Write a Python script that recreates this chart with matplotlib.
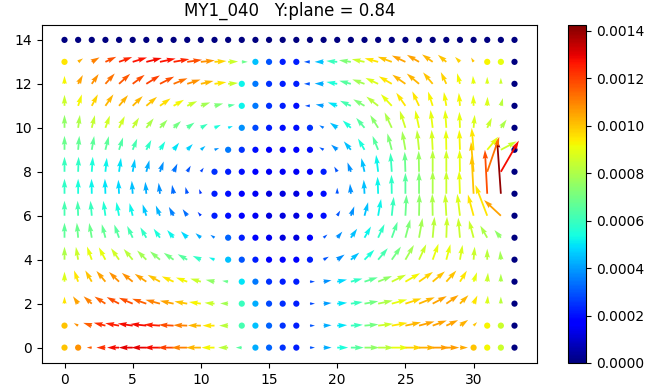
import numpy as np
import matplotlib
matplotlib.use("Agg")
import matplotlib.pyplot as plt

# plane Y = 0.84, grid columns x = 0..33, rows z = 0..14 (row 0 first)
# in-plane speed (arrow length), in-plane direction (deg) and |V| (x1e-5)
speed = [
    [0,0,5,9,12,14,15,16,16,16,15,13,10,6,0,0,0,0,5,8,11,13,15,16,17,17,17,17,13,8,0,0,0,0],
    [0,5,9,12,14,15,16,16,15,14,13,12,9,0,0,0,0,0,5,8,10,12,14,15,16,16,16,15,13,10,5,0,0,0],
    [7,9,11,13,14,15,15,15,14,13,12,10,8,0,0,0,0,0,5,8,10,12,14,15,16,17,17,16,15,12,9,8,7,0],
    [10,12,13,14,14,14,14,14,13,12,11,9,6,0,0,0,0,0,5,8,10,12,14,15,16,17,17,16,15,13,10,9,8,0],
    [13,13,14,14,14,14,13,13,12,11,9,6,0,0,0,0,0,0,0,6,9,11,14,15,16,17,17,17,16,15,13,11,9,0],
    [15,15,15,14,14,13,12,11,10,9,7,5,0,0,0,0,0,0,0,5,8,11,13,15,17,19,20,21,21,20,18,14,10,0],
    [15,15,15,15,14,13,12,11,10,8,5,0,0,0,0,0,0,0,0,0,6,10,14,17,19,21,22,22,22,22,22,33,23,0],
    [15,15,15,15,14,13,12,11,9,7,5,0,0,0,0,0,0,0,0,0,6,10,14,17,19,21,22,23,23,23,38,44,55,0],
    [15,15,15,14,14,13,12,11,9,7,5,0,0,0,0,0,0,0,0,0,6,10,14,17,19,20,21,22,22,22,30,37,36,0],
    [14,14,14,14,13,12,11,10,9,8,6,5,0,0,0,0,0,0,0,5,8,11,13,15,17,19,20,20,20,20,22,17,18,0],
    [13,13,13,13,13,12,12,11,10,9,8,7,5,0,0,0,0,0,0,5,9,11,13,15,17,18,18,18,18,16,13,11,10,0],
    [11,12,13,14,14,14,14,13,12,11,10,9,7,0,0,0,0,0,5,8,10,12,13,15,16,16,16,15,14,13,11,9,8,0],
    [8,10,12,14,15,15,16,16,15,14,13,12,10,0,0,0,0,0,6,9,11,12,13,14,15,16,16,15,13,11,8,7,6,0],
    [0,6,9,12,14,15,16,16,16,15,14,12,10,6,0,0,0,0,6,9,11,12,13,14,15,15,14,13,11,7,5,0,0,0],
    [0,0,0,0,0,0,0,0,0,0,0,0,0,0,0,0,0,0,0,0,0,0,0,0,0,0,0,0,0,0,0,0,0,0],
]

angle = [
    [180,180,180,180,180,180,180,180,180,180,180,180,180,180,0,0,0,0,0,0,0,0,0,0,0,0,0,0,0,0,0,0,0,0],
    [0,150,162,166,170,172,174,176,177,178,179,180,180,0,0,0,0,0,0,3,3,4,5,7,10,12,15,20,25,35,45,0,0,0],
    [90,125,138,147,152,157,161,165,168,170,172,175,178,0,0,0,0,0,0,5,5,8,10,12,15,18,22,28,35,45,65,85,90,0],
    [90,110,120,130,136,141,146,151,156,160,164,168,172,0,0,0,0,0,0,10,12,15,18,22,26,30,35,40,48,58,70,85,90,0],
    [90,100,110,118,125,130,135,140,145,150,155,158,0,0,0,0,0,0,0,30,35,40,45,50,55,60,65,70,75,80,85,90,95,0],
    [90,95,100,105,110,115,120,125,130,135,140,145,0,0,0,0,0,0,0,40,50,55,60,65,70,75,80,85,88,95,105,120,130,0],
    [90,92,95,98,101,104,108,112,118,125,130,0,0,0,0,0,0,0,0,0,60,70,75,80,84,87,89,91,93,97,105,111,137,0],
    [90,90,91,92,93,94,95,97,100,105,110,0,0,0,0,0,0,0,0,0,90,95,93,92,91,90,90,90,90,92,93,93,94,0],
    [90,88,86,84,82,80,75,70,65,60,55,0,0,0,0,0,0,0,0,0,120,110,103,97,94,92,91,90,90,91,95,71,60,0],
    [90,85,80,76,72,68,63,58,52,46,40,20,0,0,0,0,0,0,0,150,140,130,120,112,105,100,96,93,91,92,95,50,28,0],
    [90,82,76,70,64,58,52,47,42,36,30,25,20,0,0,0,0,0,0,150,145,138,130,122,115,108,102,97,94,92,85,65,55,0],
    [90,72,62,55,50,44,40,35,30,25,20,15,10,0,0,0,0,0,180,170,160,155,150,142,133,125,115,108,100,95,92,88,75,0],
    [90,62,55,48,42,37,32,27,22,18,13,8,5,0,0,0,0,0,180,178,170,165,160,155,150,145,140,130,115,105,95,90,90,0],
    [0,35,30,25,20,17,14,12,10,8,6,4,2,0,0,0,0,0,180,180,175,172,168,165,160,155,150,145,140,135,120,0,0,0],
    [0,0,0,0,0,0,0,0,0,0,0,0,0,0,0,0,0,0,0,0,0,0,0,0,0,0,0,0,0,0,0,0,0,0],
]

vmag = [
    [100,108,115,122,128,130,130,128,120,110,102,92,82,65,42,32,25,22,30,42,55,65,75,82,90,98,103,106,106,104,100,92,85,0],
    [100,108,115,122,125,128,128,125,118,110,102,95,82,62,45,32,25,22,30,42,50,60,70,85,95,102,105,105,105,103,100,93,85,0],
    [95,105,110,115,118,118,115,110,105,100,93,85,78,60,42,28,24,22,28,40,50,60,70,80,90,98,102,105,105,102,95,88,82,0],
    [88,95,100,105,108,108,105,100,95,92,85,75,68,50,35,25,22,22,28,38,48,58,66,75,85,92,98,100,100,95,90,85,80,0],
    [80,85,90,90,86,82,78,74,70,65,58,52,45,30,22,18,18,18,22,30,38,45,55,62,70,78,85,90,90,88,85,82,78,0],
    [66,68,68,67,65,62,58,55,52,48,42,36,32,22,18,14,12,12,18,30,38,45,52,58,65,72,78,82,85,85,85,80,75,0],
    [62,62,60,56,54,52,46,43,36,33,26,22,20,18,15,12,12,12,15,20,30,38,45,52,60,68,75,80,85,88,95,95,105,0],
    [58,55,52,50,48,45,42,38,33,30,25,22,20,18,15,12,12,12,15,20,30,38,45,52,58,65,72,80,85,90,100,118,140,0],
    [60,58,55,52,50,46,42,38,34,30,27,25,22,20,18,15,15,15,18,22,30,38,45,52,60,68,76,82,86,90,100,112,128,0],
    [68,67,66,66,64,62,58,55,50,47,44,38,35,25,20,18,18,18,20,30,38,45,55,65,72,78,83,87,90,92,95,90,85,0],
    [75,80,84,86,86,84,80,76,70,65,60,55,50,38,28,22,20,20,25,35,45,55,65,74,80,86,90,90,90,90,88,85,80,0],
    [85,92,98,102,103,102,100,96,92,85,78,72,65,52,35,25,22,20,28,40,50,62,72,82,90,95,95,93,92,92,90,88,82,0],
    [92,105,108,112,116,118,120,118,112,108,102,95,85,52,35,25,22,22,30,42,55,65,78,88,95,102,102,100,98,92,90,88,85,0],
    [95,103,110,118,124,127,128,127,124,118,108,98,85,68,45,30,22,22,30,45,60,72,85,95,100,105,105,102,100,98,100,93,90,0],
    [0,0,0,0,0,0,0,0,0,0,0,0,0,0,0,0,0,0,0,0,0,0,0,0,0,0,0,0,0,0,0,0,0,0],
]

S = np.array(speed, float)
A = np.radians(np.array(angle, float))
M = np.array(vmag, float) * 1e-5
X, Z = np.meshgrid(np.arange(S.shape[1]), np.arange(S.shape[0]))
U = S * np.cos(A)
W = S * np.sin(A)

fig = plt.figure(figsize=(6.52, 3.91), dpi=100)
ax = fig.add_axes([42 / 652, 28 / 391, 495 / 652, 338.5 / 391])
cax = fig.add_axes([568 / 652, 28 / 391, 18 / 652, 338.5 / 391])
norm = plt.Normalize(0, 0.001426)

still = S == 0
ax.scatter(X[still], Z[still], c=M[still], cmap="jet", norm=norm, s=20, linewidths=0)
q = ax.quiver(X[~still], Z[~still], U[~still], W[~still], M[~still], cmap="jet", norm=norm,
              units="dots", width=1.8, scale_units="dots", scale=1, minlength=0)
ax.set_xlim(-1.65, 34.65)
ax.set_ylim(-0.7, 14.7)
ax.set_title("MY1_040   Y:plane = 0.84")
fig.colorbar(q, cax=cax)

fig.savefig("out.png", dpi=100)
